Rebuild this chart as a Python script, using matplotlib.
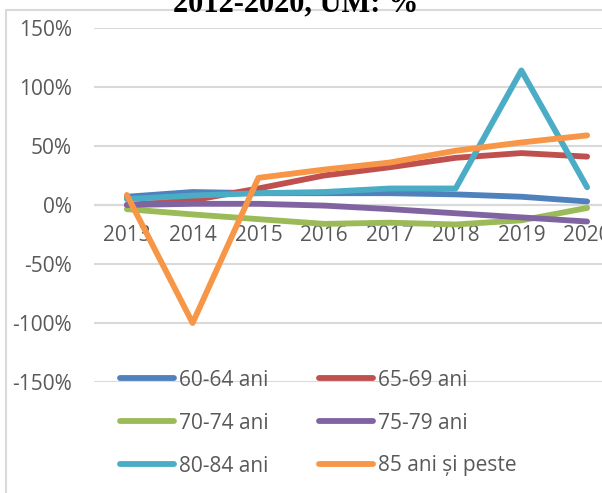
import matplotlib
matplotlib.use('Agg')
import matplotlib.pyplot as plt
from matplotlib.patches import Rectangle
from matplotlib.ticker import FuncFormatter

years = ['2013', '2014', '2015', '2016', '2017', '2018', '2019', '2020']
series_names = ['60-64 ani', '65-69 ani', '70-74 ani', '75-79 ani', '80-84 ani', '85 ani și peste']

# growth rates, %
ani_60_64 = [7, 11, 10, 10, 10, 9, 7, 3]
ani_65_69 = [0, 4, 14, 25, 32, 40, 44, 41]
ani_70_74 = [-3.5, -8, -12, -16, -15, -16.5, -13, -2.5]
ani_75_79 = [0, 1, 1, -0.5, -3.5, -7, -10.5, -14]
ani_80_84 = [5, 8, 10, 11, 14, 14, 114, 15]
ani_85_plus = [8.5, -100, 23, 30, 36, 46, 53, 59]

series = [ani_60_64, ani_65_69, ani_70_74, ani_75_79, ani_80_84, ani_85_plus]
colors = ['#4F81BD', '#C0504D', '#9BBB59', '#8064A2', '#4BACC6', '#F79646']

W, H = 602, 493
fig = plt.figure(figsize=(W / 100, H / 100), dpi=100)
ax = fig.add_axes([94 / W, 1 - 382 / H, (620 - 94) / W, (382 - 28) / H])

font = ['Open Sans', 'DejaVu Sans']
grey = '#595959'

x = list(range(len(years)))
lines = []
for vals, name, col in zip(series, series_names, colors):
    ln, = ax.plot(x, [v / 100 for v in vals], color=col, lw=4.2, label=name,
                  solid_capstyle='round', solid_joinstyle='round', zorder=3)
    lines.append(ln)

ax.set_xlim(-0.5, len(years) - 0.5)
ax.set_ylim(-1.5, 1.5)
ax.set_yticks([-1.5, -1.0, -0.5, 0, 0.5, 1.0, 1.5])
ax.yaxis.set_major_formatter(FuncFormatter(lambda v, p: f'{v * 100:.0f}%'))
ax.tick_params(axis='y', length=0, pad=16, labelsize=15, labelcolor=grey)
for lbl in ax.get_yticklabels():
    lbl.set_family(font)
ax.set_xticks([])
ax.grid(axis='y', color='#D9D9D9', lw=1.5, zorder=0)
for s in ax.spines.values():
    s.set_visible(False)
ax.axhline(0, color='#D9D9D9', lw=1.5, zorder=1)

# category labels sit next to the 0% line
for i, yr in enumerate(years):
    ax.annotate(yr, (i, 0), xytext=(0, -22), textcoords='offset points',
                ha='center', va='center', fontsize=15, color=grey, family=font,
                annotation_clip=False, zorder=2)

# legend filled row by row, as in Excel
order = [0, 2, 4, 1, 3, 5]
leg = ax.legend([lines[i] for i in order], [series_names[i] for i in order],
                ncol=2, loc='upper left', bbox_to_anchor=(101 / W, 1 - 351 / H),
                bbox_transform=fig.transFigure, frameon=False,
                handlelength=2.6, handletextpad=0.25, columnspacing=2.4,
                labelspacing=1.05, prop={'family': font, 'size': 15})
for t in leg.get_texts():
    t.set_color(grey)

# outer chart border (cropped)
fig.patches.append(Rectangle((6 / W, -0.2), 1.2, 1.2 - 10 / H, transform=fig.transFigure,
                             fill=False, edgecolor='#D9D9D9', lw=1.5))

fig.text(296 / W, 1 - 11 / H, '2012-2020, UM: %', ha='center', va='baseline',
         fontsize=22, fontweight='bold', family='Liberation Serif')

fig.savefig('out.png', dpi=100)
